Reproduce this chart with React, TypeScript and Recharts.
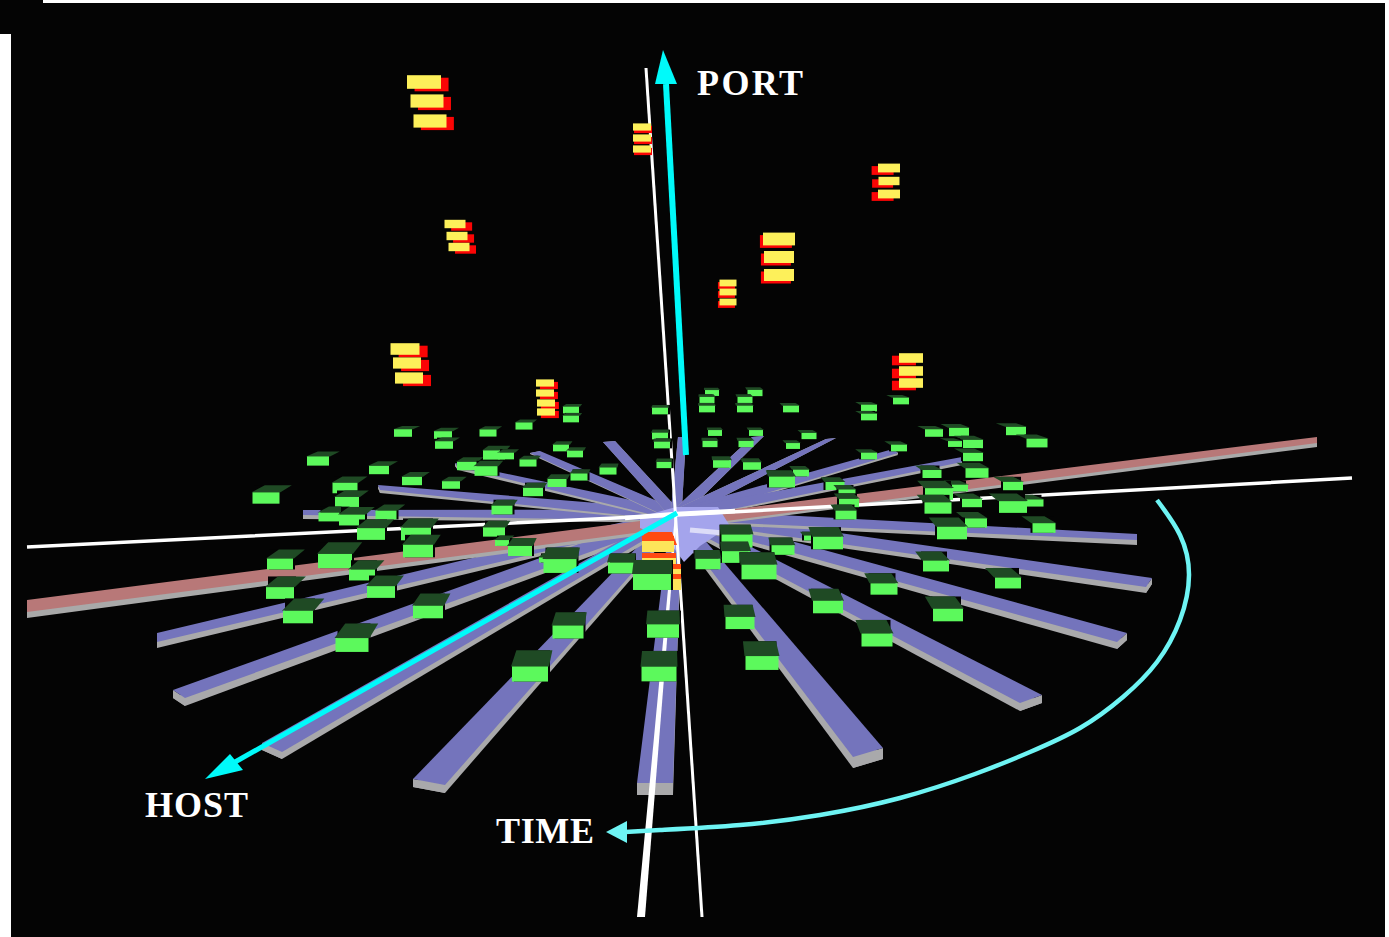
import { ScatterChart, Scatter, XAxis, YAxis } from "recharts";

const WIDTH = 1389;
const HEIGHT = 937;

const hubX = 676;
const hubY = 515;
const hubHalfWidth = 5.5;

// spoke ends: two top corners of the end face, and the face height
const spokeAX = [637, 413, 853, 1020, 1117, 1146, 1137, 157, 173, 262, 303, 378, 455, 530, 603, 678, 752, 826, 893, 962];
const spokeAY = [783, 779, 757, 703, 642, 587, 540, 633, 690, 743, 510, 485, 463, 453, 442, 437, 437, 439, 449, 457];
const spokeBX = [673, 445, 883, 1042, 1127, 1152, 1137, 157, 185, 282, 303, 380, 458, 540, 615, 686, 764, 836, 898, 962];
const spokeBY = [783, 785, 748, 695, 633, 578, 534, 642, 698, 752, 515, 490, 467, 451, 441, 437, 436, 438, 453, 462];
const spokeT = [12, 8, 11, 8, 7, 6, 5, 6, 8, 7, 4, 3, 3, 1, 0, 0, 0, 0, 2, 3];

// the long pink bar, both halves
const barAX = [27, 1317];
const barAY = [600, 437];
const barBY = [612, 443];
const barT = [6, 4];
const barApexY = 522;

// green boxes
const greenX = [403, 443, 444, 318, 379, 412, 451, 345, 266, 347, 329, 352, 386, 467, 371, 416, 418, 335, 280, 362, 280, 381, 298, 428, 352,
  571, 571, 524, 488, 561, 575, 494, 506, 528, 486, 608, 579, 557, 533, 502, 660, 660, 662, 664,
  712, 707, 707, 755, 745, 745, 791, 901, 869, 869, 715, 710, 756, 746, 809, 793, 899, 869, 722, 752, 782, 801, 835, 847, 849, 846,
  934, 959, 1016, 1037, 973, 955, 973, 932, 977, 1013, 960, 939, 972, 938, 1013, 1035, 952, 976, 1044,
  828, 810, 737, 736, 783, 708, 759, 936, 884, 828, 948, 1008, 740, 877, 762,
  494, 502, 520, 545, 560, 621, 652, 568, 663, 530, 659];
const greenY = [433, 435, 445, 461, 470, 481, 485, 488, 498, 502, 517, 520, 515, 466, 534, 534, 551, 561, 564, 575, 593, 592, 617, 612, 645,
  410, 419, 426, 433, 448, 454, 455, 456, 463, 471, 471, 477, 483, 492, 510, 411, 436, 445, 465,
  393, 400, 409, 393, 400, 409, 409, 401, 408, 417, 433, 444, 433, 444, 436, 446, 448, 456, 464, 466, 482, 473, 486, 493, 503, 515,
  433, 432, 431, 443, 444, 444, 457, 474, 473, 486, 488, 494, 503, 508, 507, 503, 533, 523, 528,
  543, 538, 541, 557, 550, 564, 572, 566, 589, 607, 615, 583, 623, 640, 663,
  532, 543, 551, 560, 566, 568, 582, 632, 631, 674, 674];
const greenW = [18, 18, 18, 22, 20, 20, 18, 25, 27, 24, 21, 26, 21, 20, 28, 30, 30, 34, 26, 26, 28, 28, 30, 30, 33,
  16, 16, 17, 17, 16, 16, 22, 16, 17, 23, 17, 17, 19, 20, 21, 16, 16, 16, 15,
  14, 15, 16, 15, 15, 16, 16, 16, 16, 16, 14, 15, 14, 15, 15, 14, 16, 16, 18, 18, 26, 16, 19, 17, 20, 21,
  18, 20, 20, 21, 20, 14, 20, 19, 23, 20, 16, 28, 20, 27, 28, 17, 30, 22, 23,
  30, 12, 31, 28, 23, 25, 35, 26, 27, 30, 30, 26, 29, 31, 33,
  22, 14, 24, 12, 33, 26, 38, 31, 32, 36, 35];

// yellow layers, three or four to a stack
const layerX = [424, 427, 430, 455, 457, 459, 642, 642, 642, 779, 779, 779, 728, 728, 728, 889, 889, 889, 405, 407, 409, 545, 545, 546, 546, 911, 911, 911];
const layerY = [82, 101, 121, 224, 236, 247, 127, 138, 149, 239, 257, 275, 283, 292, 302, 168, 181, 194, 349, 363, 378, 383, 393, 403, 412, 358, 371, 383];
const layerW = [34, 33, 33, 21, 21, 21, 18, 18, 18, 32, 30, 30, 17, 17, 17, 22, 21, 22, 29, 28, 28, 18, 18, 18, 18, 24, 24, 24];

// the stack in the middle of the hub
const coreCapX = [644, 672, 677, 642];
const coreCapY = [532, 532, 545, 545];
const coreX = [658, 659, 671, 672];
const coreY = [547, 564, 575, 585];
const coreW = [32, 34, 20, 18];

const portShaftX = [686, 666];
const portShaftY = [455, 84];
const portHeadX = [663, 655, 677];
const portHeadY = [50, 84, 84];
const hostShaftX = [677, 228];
const hostShaftY = [513, 766];
const hostHeadX = [205, 230, 243];
const hostHeadY = [779, 754, 770];
const timeCurveX = [1157, 1180, 1189, 1180, 1157, 1123, 1080, 1030, 975, 900, 820, 740, 660, 625];
const timeCurveY = [500, 535, 575, 620, 662, 697, 728, 752, 774, 798, 815, 825, 830, 832];
const timeHeadX = [606, 627, 627];
const timeHeadY = [832, 821, 843];

const labelNames = ["PORT", "HOST", "TIME"];
const labelX = [697, 145, 496];
const labelY = [95, 817, 843];
const labelW = [106, 103, 98];

// white reference lines
const sightLineX = [27, 676, 1352];
const sightLineY = [547, 515, 478];
const thinPoleX = [646, 702];
const thinPoleY = [68, 917];
const thickPoleX = [637, 645, 677, 675];
const thickPoleY = [917, 917, 515, 515];

// glare around the hub
const glowX = [640, 676, 718, 730, 700, 684, 668, 640];
const glowY = [517, 507, 507, 526, 546, 562, 540, 528];
const streakX = [625, 676, 735];
const streakY = [518, 514, 511];
const streakLowX = [690, 735];
const streakLowY = [530, 534];

const pts = (xs: number[], ys: number[]) => xs.map((x, i) => ({ x, y: ys[i] }));

// hub end of a spoke, turned square to its run, then the two far corners, then the drop
const beamPoints = (ax: number, ay: number, bx: number, by: number, t: number, apexY: number) => {
  const mx = (ax + bx) / 2 - hubX;
  const my = (ay + by) / 2 - apexY;
  const len = Math.hypot(mx, my);
  let nx = -my / len;
  let ny = mx / len;
  if (nx * (ax - bx) + ny * (ay - by) < 0) {
    nx = -nx;
    ny = -ny;
  }
  return [
    { x: hubX + nx * hubHalfWidth, y: apexY + ny * hubHalfWidth },
    { x: hubX - nx * hubHalfWidth, y: apexY - ny * hubHalfWidth },
    { x: ax, y: ay },
    { x: bx, y: by },
    { x: ax, y: ay + t },
    { x: bx, y: by + t },
    { x: hubX + nx * hubHalfWidth, y: apexY + ny * hubHalfWidth + t * 0.5 },
    { x: hubX - nx * hubHalfWidth, y: apexY - ny * hubHalfWidth + t * 0.5 },
  ];
};

const spokes = spokeAX.map((ax, i) => beamPoints(ax, spokeAY[i], spokeBX[i], spokeBY[i], spokeT[i], hubY));
const bars = barAX.map((x, i) => beamPoints(x, barAY[i], x, barBY[i], barT[i], barApexY));
const greens = greenX.map((x, i) => ({ x, y: greenY[i], w: greenW[i] })).sort((a, b) => a.y - b.y);
const layers = layerX.map((x, i) => ({ x, y: layerY[i], w: layerW[i] }));
const core = coreX.map((x, i) => ({ x, y: coreY[i], w: coreW[i] }));
const labels = labelNames.map((name, i) => ({ name, x: labelX[i], y: labelY[i], w: labelW[i] }));

const toPoints = (p: { x: number; y: number }[]) => p.map((q) => `${q.x},${q.y}`).join(" ");
const noDot = () => <g />;

const polygon = (fill: string) => (props: any) => <polygon points={toPoints(props.points)} fill={fill} />;
const polyline = (stroke: string, width: number) => (props: any) => (
  <polyline points={toPoints(props.points)} fill="none" stroke={stroke} strokeWidth={width} strokeLinejoin="round" />
);

// top face plus side face of a spoke
const beam = (fill: string, side: string) => (props: any) => {
  const [hubA, hubB, a, b, a2, b2, hubA2, hubB2] = props.points;
  return (
    <g>
      <polygon points={toPoints([hubA2, a2, b2, hubB2])} fill={side} />
      <polygon points={toPoints([a, a2, b2, b])} fill={side} />
      <polygon points={toPoints([hubA, a, b, hubB])} fill={fill} />
    </g>
  );
};

const GreenBox = ({ cx, cy, payload }: any) => {
  const w = payload.w;
  const h = w * 0.42;
  const x0 = cx - w / 2;
  const y0 = cy - h / 2;
  const depth = Math.min(1, Math.max(0, (cy - 420) / 230));
  const t = w * (0.17 + 0.28 * depth);
  const s = (hubX - cx) * 0.03;
  const shadow = cx < hubX ? 2 : -2;
  return (
    <g>
      <rect x={x0 + shadow} y={y0 - t} width={w} height={t + h} fill="#040404" />
      <polygon
        points={`${x0 - 1},${y0} ${x0 + w + 1},${y0} ${x0 + w + s},${y0 - t} ${x0 + s},${y0 - t}`}
        fill="#1f4a24"
      />
      <rect x={x0} y={y0} width={w} height={h} fill="#5cf95c" />
    </g>
  );
};

const YellowLayer = ({ cx, cy, payload }: any) => {
  const w = payload.w;
  const h = w * 0.4;
  const off = (hubX - cx) * 0.03;
  return (
    <g>
      <rect x={cx - w / 2 + off} y={cy - h / 2 + 2.5} width={w} height={h} fill="#fb0505" />
      <rect x={cx - w / 2} y={cy - h / 2} width={w} height={h} fill="#fdf05a" />
    </g>
  );
};

const CoreLayer = ({ cx, cy, payload }: any) => {
  const w = payload.w;
  return (
    <g>
      <rect x={cx - w / 2} y={cy - 11} width={w} height={6} fill="#ff4a12" />
      <rect x={cx - w / 2} y={cy - 6} width={w} height={11} fill="#fde45a" />
    </g>
  );
};

const AxisName = ({ cx, cy, payload }: any) => (
  <text
    x={cx}
    y={cy}
    fill="#ffffff"
    fontFamily="'Liberation Serif'"
    fontWeight="bold"
    fontSize={36}
    textLength={payload.w}
    lengthAdjust="spacing"
  >
    {payload.name}
  </text>
);

export default function App() {
  return (
    <div style={{ position: "absolute", left: 0, top: 0, width: WIDTH, height: HEIGHT, background: "#ffffff", overflow: "hidden" }}>
      <div style={{ position: "absolute", left: 11, top: 3, width: 1374, height: 934, background: "#040404" }} />
      <div style={{ position: "absolute", left: 0, top: 0, width: 43, height: 34, background: "#040404" }} />
      <div style={{ position: "absolute", left: 0, top: 0 }}>
        <ScatterChart width={WIDTH} height={HEIGHT} margin={{ top: 0, right: 0, bottom: 0, left: 0 }}>
          <XAxis type="number" dataKey="x" domain={[0, WIDTH]} hide />
          <YAxis type="number" dataKey="y" domain={[0, HEIGHT]} reversed hide />

          {spokes.map((data, i) => (
            <Scatter key={i} data={data} line={beam("#7474bc", "#a9a9ab")} shape={noDot} isAnimationActive={false} />
          ))}
          {bars.map((data, i) => (
            <Scatter key={i} data={data} line={beam("#b87878", "#a9a9a9")} shape={noDot} isAnimationActive={false} />
          ))}
          <Scatter data={pts(glowX, glowY)} line={polygon("#a4a4ec")} shape={noDot} isAnimationActive={false} />
          <Scatter data={pts(sightLineX, sightLineY)} line={polyline("#ffffff", 3.5)} shape={noDot} isAnimationActive={false} />
          <Scatter data={pts(streakX, streakY)} line={polyline("#ffffff", 4.5)} shape={noDot} isAnimationActive={false} />
          <Scatter data={pts(streakLowX, streakLowY)} line={polyline("#dcdcf8", 5)} shape={noDot} isAnimationActive={false} />
          <Scatter data={pts(thinPoleX, thinPoleY)} line={polyline("#ffffff", 3)} shape={noDot} isAnimationActive={false} />
          <Scatter data={pts(thickPoleX, thickPoleY)} line={polygon("#ffffff")} shape={noDot} isAnimationActive={false} />

          <Scatter data={layers} shape={YellowLayer} isAnimationActive={false} />
          <Scatter data={pts(coreCapX, coreCapY)} line={polygon("#ff4a12")} shape={noDot} isAnimationActive={false} />
          <Scatter data={core} shape={CoreLayer} isAnimationActive={false} />
          <Scatter data={greens} shape={GreenBox} isAnimationActive={false} />

          <Scatter data={pts(portShaftX, portShaftY)} line={polyline("#00fafa", 6)} shape={noDot} isAnimationActive={false} />
          <Scatter data={pts(portHeadX, portHeadY)} line={polygon("#00fafa")} shape={noDot} isAnimationActive={false} />
          <Scatter data={pts(hostShaftX, hostShaftY)} line={polyline("#00fafa", 5)} shape={noDot} isAnimationActive={false} />
          <Scatter data={pts(hostHeadX, hostHeadY)} line={polygon("#00fafa")} shape={noDot} isAnimationActive={false} />
          <Scatter
            data={pts(timeCurveX, timeCurveY)}
            line={{ stroke: "#6ef4f4", strokeWidth: 4.5, fill: "none" }}
            lineJointType="natural"
            shape={noDot}
            isAnimationActive={false}
          />
          <Scatter data={pts(timeHeadX, timeHeadY)} line={polygon("#6ef4f4")} shape={noDot} isAnimationActive={false} />

          <Scatter data={labels} shape={AxisName} isAnimationActive={false} />
        </ScatterChart>
      </div>
    </div>
  );
}
